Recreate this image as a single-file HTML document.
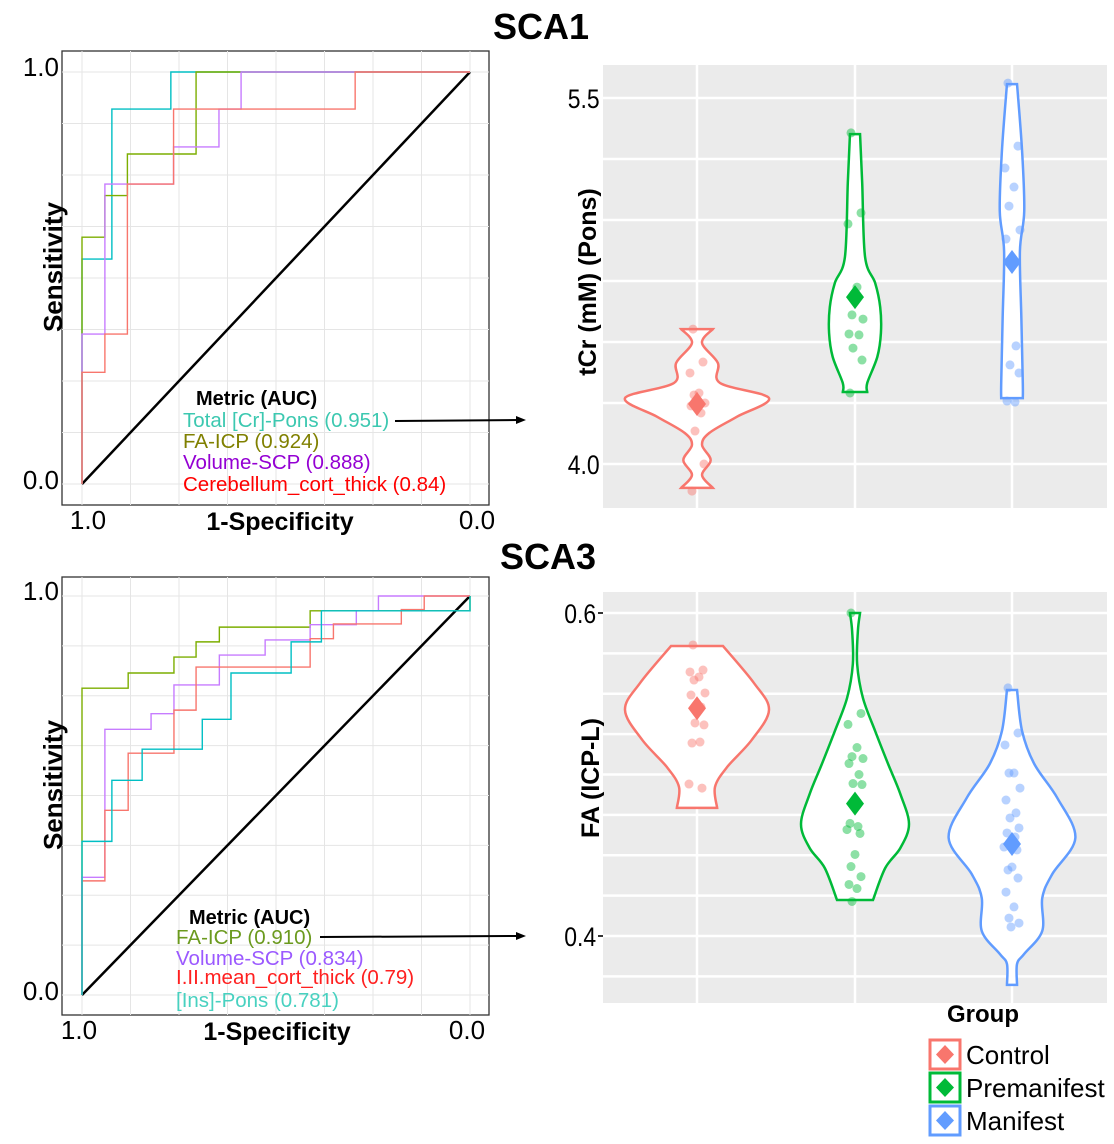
<!DOCTYPE html>
<html><head><meta charset="utf-8">
<style>
html,body{margin:0;padding:0;background:#fff;}
svg{display:block;font-family:"Liberation Sans",sans-serif;}
</style></head>
<body>
<svg id="fig" width="1114" height="1144" viewBox="0 0 1114 1144" xmlns="http://www.w3.org/2000/svg">
<text x="541" y="39" font-size="36" font-weight="bold" text-anchor="middle">SCA1</text>
<text x="548" y="569" font-size="36" font-weight="bold" text-anchor="middle">SCA3</text>
<g id="g"></g>
</svg>
<script>
// ---------- ROC data (fpr,tpr vertices) ----------
const rocTopNames = ["Total [Cr]-Pons (0.951)","FA-ICP (0.924)","Volume-SCP (0.888)","Cerebellum_cort_thick (0.84)"];
const rocTopTeal = [[0,0],[0,.546],[.077,.546],[.077,.910],[.229,.910],[.229,1],[1,1]];
const rocTopOlive = [[0,0],[0,.599],[.059,.599],[.059,.700],[.117,.700],[.117,.801],[.294,.801],[.294,1],[1,1]];
const rocTopPurple = [[0,0],[0,.364],[.059,.364],[.059,.728],[.236,.728],[.236,.818],[.353,.818],[.353,.910],[.410,.910],[.410,1],[1,1]];
const rocTopRed = [[0,0],[0,.271],[.059,.271],[.059,.364],[.117,.364],[.117,.728],[.236,.728],[.236,.910],[.704,.910],[.704,1],[1,1]];
const rocBotNames = ["FA-ICP (0.910)","Volume-SCP (0.834)","I.II.mean_cort_thick (0.79)","[Ins]-Pons (0.781)"];
const rocBotOlive = [[0,0],[0,.769],[.119,.769],[.119,.807],[.237,.807],[.237,.847],[.294,.847],[.294,.885],[.354,.885],[.354,.922],[.588,.922],[.588,.963],[.616,.963],[1,.963],[1,1]];
const rocBotPurple = [[0,0],[0,.295],[.059,.295],[.059,.666],[.178,.666],[.178,.705],[.237,.705],[.237,.777],[.354,.777],[.354,.852],[.472,.852],[.472,.890],[.588,.890],[.588,.928],[.707,.928],[.707,.963],[.764,.963],[.764,1],[1,1]];
const rocBotRed = [[0,0],[0,.286],[.059,.286],[.059,.463],[.119,.463],[.119,.606],[.237,.606],[.237,.714],[.294,.714],[.294,.822],[.588,.822],[.588,.893],[.648,.893],[.648,.930],[.823,.930],[.823,.966],[.882,.966],[.882,1],[1,1]];
const rocBotTeal = [[0,0],[0,.385],[.077,.385],[.077,.538],[.155,.538],[.155,.616],[.310,.616],[.310,.691],[.384,.691],[.384,.807],[.539,.807],[.539,.885],[.617,.885],[.617,.963],[1,.963],[1,1]];
// ---------- Violin data ----------
const groups = ["Control","Premanifest","Manifest"];
const tcrControlShape = [[4.553,.22],[4.496,.07],[4.414,.29],[4.332,.32],[4.270,1],[4.193,.55],[4.127,.17],[4.078,.07],[4.016,.19],[3.955,.07],[3.902,.22]];
const tcrPreShape = [[5.352,.07],[5.152,.10],[4.848,.14],[4.742,.28],[4.643,.35],[4.537,.36],[4.439,.31],[4.332,.17],[4.295,.17]];
const tcrManShape = [[5.557,.07],[5.283,.14],[5.037,.17],[4.873,.11],[4.598,.13],[4.332,.15],[4.270,.15]];
const tcrControlPts = [4.553,4.418,4.373,4.291,4.283,4.250,4.238,4.209,4.135,4.000,3.889];
const tcrPrePts = [5.357,5.029,4.984,4.725,4.611,4.594,4.533,4.529,4.475,4.426,4.291];
const tcrManPts = [5.561,5.303,5.213,5.135,5.057,4.959,4.922,4.484,4.406,4.373,4.258,4.254];
const tcrMeans = [4.246,4.684,4.828];
const tcrTicks = [5.5,4.0];
const faControlShape = [[.5796,.36],[.5567,.79],[.5400,1],[.5214,.76],[.5047,.42],[.4923,.25],[.4793,.28]];
const faPreShape = [[.600,.07],[.5889,.04],[.5684,.03],[.5474,.11],[.5269,.28],[.5065,.46],[.4879,.63],[.4693,.75],[.4545,.63],[.4421,.42],[.4223,.25]];
const faManShape = [[.5523,.07],[.5269,.14],[.5065,.31],[.4854,.63],[.4607,.88],[.4384,.56],[.4235,.42],[.4031,.42],[.3889,.17],[.3827,.07],[.3697,.07]];
const faControlPts = [.5802,.5647,.5635,.5604,.5585,.5505,.5492,.5418,.5319,.5307,.5195,.5201,.4941,.4916];
const faPrePts = [.600,.5378,.5310,.5167,.5111,.5099,.5068,.5000,.4944,.4938,.4697,.4678,.4659,.4635,.4505,.4430,.4368,.4319,.4294,.4214];
const faManPts = [.5536,.5257,.5183,.5009,.5009,.4916,.4842,.4762,.4731,.4669,.4638,.4613,.4551,.4533,.4427,.4409,.4359,.4272,.4180,.4111,.4080,.4056];
const faMeans = [.541,.482,.457];
const faTicks = [0.6,0.4];
const jit = [-4,6,-7,2,-3,8,-6,4,-2,7,-5,3,-8,5,0,-4,6,-6,2,-3,7,-1];

const NS="http://www.w3.org/2000/svg";
const G=document.getElementById('g');
function mk(tag,attrs,parent){const e=document.createElementNS(NS,tag);for(const k in attrs)e.setAttribute(k,attrs[k]);(parent||G).appendChild(e);return e;}
function txt(s,attrs,parent){const e=mk('text',attrs,parent);e.textContent=s;return e;}

function rocPanel(name,box,ax,curves,colors,names,txtColors,legend,arrowY,xlab){
  const g=mk('g',{});
  
  
  const bg=mk('rect',{x:box[0],y:box[1],width:box[2]-box[0],height:box[3]-box[1],fill:'#fff',stroke:'#333','stroke-width':1.3},g);
  
  
  const X=f=>ax.x0+f*(ax.x1-ax.x0), Y=t=>ax.y0-t*(ax.y0-ax.y1);
  for(let i=0;i<=8;i++){
    const v=i/8;
    const gl=mk('line',{x1:X(v),x2:X(v),y1:box[1],y2:box[3],stroke:'#e5e5e5','stroke-width':1},g);
    
    
    const gh=mk('line',{x1:box[0],x2:box[2],y1:Y(v),y2:Y(v),stroke:'#e5e5e5','stroke-width':1},g);
    
    
  }
  const d=mk('line',{x1:X(0),y1:Y(0),x2:X(1),y2:Y(1),stroke:'#000','stroke-width':2.5},g);
  
  
  curves.forEach((c,i)=>{
    const p=mk('polyline',{points:c.map(q=>X(q[0])+','+Y(q[1])).join(' '),fill:'none',stroke:colors[i],'stroke-width':1.4},g);
    
    
  });
  const t1=txt('1.0',{x:box[0]-3,y:Y(1)+4,'font-size':26,'text-anchor':'end'},g);
  
  
  const t0=txt('0.0',{x:box[0]-3,y:Y(0)+5,'font-size':26,'text-anchor':'end'},g);
  
  
  const xa=txt('1.0',{x:xlab[0],y:box[3]+24,'font-size':26,'text-anchor':'middle'},g);
  
  
  const xb=txt('0.0',{x:xlab[1],y:box[3]+24,'font-size':26,'text-anchor':'middle'},g);
  
  
  const xt=txt('1-Specificity',{x:xlab[2],y:box[3]+25,'font-size':25,'font-weight':'bold','text-anchor':'middle'},g);
  
  
  const cy=(box[1]+box[3])/2-11;
  const yt=txt('Sensitivity',{x:0,y:0,'font-size':26,'font-weight':'bold','text-anchor':'middle',transform:`translate(62,${cy}) rotate(-90)`},g);
  
  
  const lt=txt('Metric (AUC)',{x:legend.tx,y:legend.ty,'font-size':20,'font-weight':'bold'},g);
  
  
  names.forEach((n,i)=>{
    const e=txt(n,{x:legend.x,y:legend.ys[i],'font-size':20.5,fill:txtColors[i]},g);
    
    
  });
  const ar=mk('line',{x1:legend.ax,y1:arrowY[0],x2:518,y2:arrowY[1],stroke:'#000','stroke-width':2},g);
  
  
  const ah=mk('polygon',{points:`526,${arrowY[1]} 516,${arrowY[1]-4} 516,${arrowY[1]+4}`,fill:'#000'},g);
  
  
}
rocPanel('roc-sca1',[62,51,489,505],{x0:82,x1:470,y0:484,y1:72},
  [rocTopTeal,rocTopOlive,rocTopPurple,rocTopRed],['#00bfc4','#7cae00','#c77cff','#f8766d'],
  rocTopNames,['#3cc8b0','#808000','#9400d3','#ff0000'],
  {tx:196,ty:405,x:183,ys:[427,448,469,491],ax:395},[421,420],[88,477,280]);
rocPanel('roc-sca3',[62,577,489,1015],{x0:82,x1:470,y0:995,y1:596},
  [rocBotOlive,rocBotPurple,rocBotRed,rocBotTeal],['#7cae00','#c77cff','#f8766d','#00bfc4'],
  rocBotNames,['#6b9a1e','#9b59ff','#ff2020','#48d1c0'],
  {tx:189,ty:924,x:176,ys:[944,965,984,1007],ax:320},[937,936],[79,467,277]);

const vColors=['#f8766d','#00ba38','#619cff'];
const cx=[697,855,1012];
function smoothPath(pts){
  let d='M'+pts[0][0]+','+pts[0][1];
  for(let i=0;i<pts.length-1;i++){
    const p0=pts[Math.max(0,i-1)],p1=pts[i],p2=pts[i+1],p3=pts[Math.min(pts.length-1,i+2)];
    const c1=[p1[0]+(p2[0]-p0[0])/6,p1[1]+(p2[1]-p0[1])/6];
    const c2=[p2[0]-(p3[0]-p1[0])/6,p2[1]-(p3[1]-p1[1])/6];
    d+=` C${c1[0]},${c1[1]} ${c2[0]},${c2[1]} ${p2[0]},${p2[1]}`;
  }
  return d;
}
function violinPanel(name,box,Y,minorStep,vmin,vmax,shapes,pts,means,ticks,ytitle,ticksMarks){
  const g=mk('g',{});
  
  
  const bg=mk('rect',{x:box[0],y:box[1],width:box[2]-box[0],height:box[3]-box[1],fill:'#ebebeb'},g);
  
  
  for(let v=vmin;v<=vmax+1e-9;v+=minorStep){
    const yy=Y(v); if(yy<box[1]||yy>box[3])continue;
    const l=mk('line',{x1:box[0],x2:box[2],y1:yy,y2:yy,stroke:'#fff','stroke-width':2.5},g);
    
    
  }
  cx.forEach(x=>{
    const l=mk('line',{x1:x,x2:x,y1:box[1],y2:box[3],stroke:'#fff','stroke-width':2.5},g);
    
    
  });
  shapes.forEach((s,i)=>{
    const W=72;
    const right=s.map(q=>[cx[i]+q[1]*W,Y(q[0])]);
    const left=s.map(q=>[cx[i]-q[1]*W,Y(q[0])]).reverse();
    const d=smoothPath(right)+' L'+left[0][0]+','+left[0][1]+' '+smoothPath(left).slice(1).replace(/^[^C]*/,'')+' Z';
    const p=mk('path',{d:d,fill:'#fff',stroke:vColors[i],'stroke-width':2.5},g);
    
    
  });
  pts.forEach((arr,i)=>{
    arr.forEach((v,k)=>{
      const c=mk('circle',{cx:cx[i]+jit[k%jit.length],cy:Y(v),r:4.5,fill:vColors[i],'fill-opacity':0.45},g);
      
      
    });
    const m=means[i],yy=Y(m);
    const dm=mk('polygon',{points:`${cx[i]},${yy-12} ${cx[i]+9},${yy} ${cx[i]},${yy+12} ${cx[i]-9},${yy}`,fill:vColors[i]},g);
    
    
  });
  ticks.forEach(t=>{
    const e=txt(t.toFixed(1),{x:box[0]-(ticksMarks?8:4),y:Y(t)+10,'font-size':27,'text-anchor':'end',transform:`translate(${box[0]} 0) scale(0.85 1) translate(${-box[0]} 0)`},g);
    
    
    if(ticksMarks){
      const tm=mk('line',{x1:box[0]-5,x2:box[0],y1:Y(t),y2:Y(t),stroke:'#333','stroke-width':2},g);
      
      
    }
  });
  const yt=txt(ytitle.t,{x:0,y:0,'font-size':25,'font-weight':'bold','text-anchor':'middle',transform:`translate(${ytitle.x},${ytitle.cy}) rotate(-90)`},g);
  
  
}
violinPanel('violin-tcr',[603,65,1107,508],v=>98+(5.5-v)*244,0.25,3.5,5.75,
  [tcrControlShape,tcrPreShape,tcrManShape],[tcrControlPts,tcrPrePts,tcrManPts],tcrMeans,tcrTicks,
  {t:'tCr (mM) (Pons)',x:596,cy:282},false);
violinPanel('violin-fa',[603,592,1107,1003],v=>613+(0.6-v)*1615,0.025,0.35,0.625,
  [faControlShape,faPreShape,faManShape],[faControlPts,faPrePts,faManPts],faMeans,faTicks,
  {t:'FA (ICP-L)',x:599,cy:778},true);

const lg=mk('g',{});


const lgt=txt('Group',{x:983,y:1022,'font-size':24,'font-weight':'bold','text-anchor':'middle'},lg);


groups.forEach((n,i)=>{
  const y0=1040+i*33;
  const r=mk('rect',{x:930,y:y0,width:30,height:29,fill:'#fff',stroke:vColors[i],'stroke-width':3},lg);
  
  
  const dm=mk('polygon',{points:`945,${y0+5} 954,${y0+14.5} 945,${y0+24} 936,${y0+14.5}`,fill:vColors[i]},lg);
  
  
  const t=txt(n,{x:966,y:y0+24,'font-size':26},lg);
  
  
});
</script>
</body></html>
